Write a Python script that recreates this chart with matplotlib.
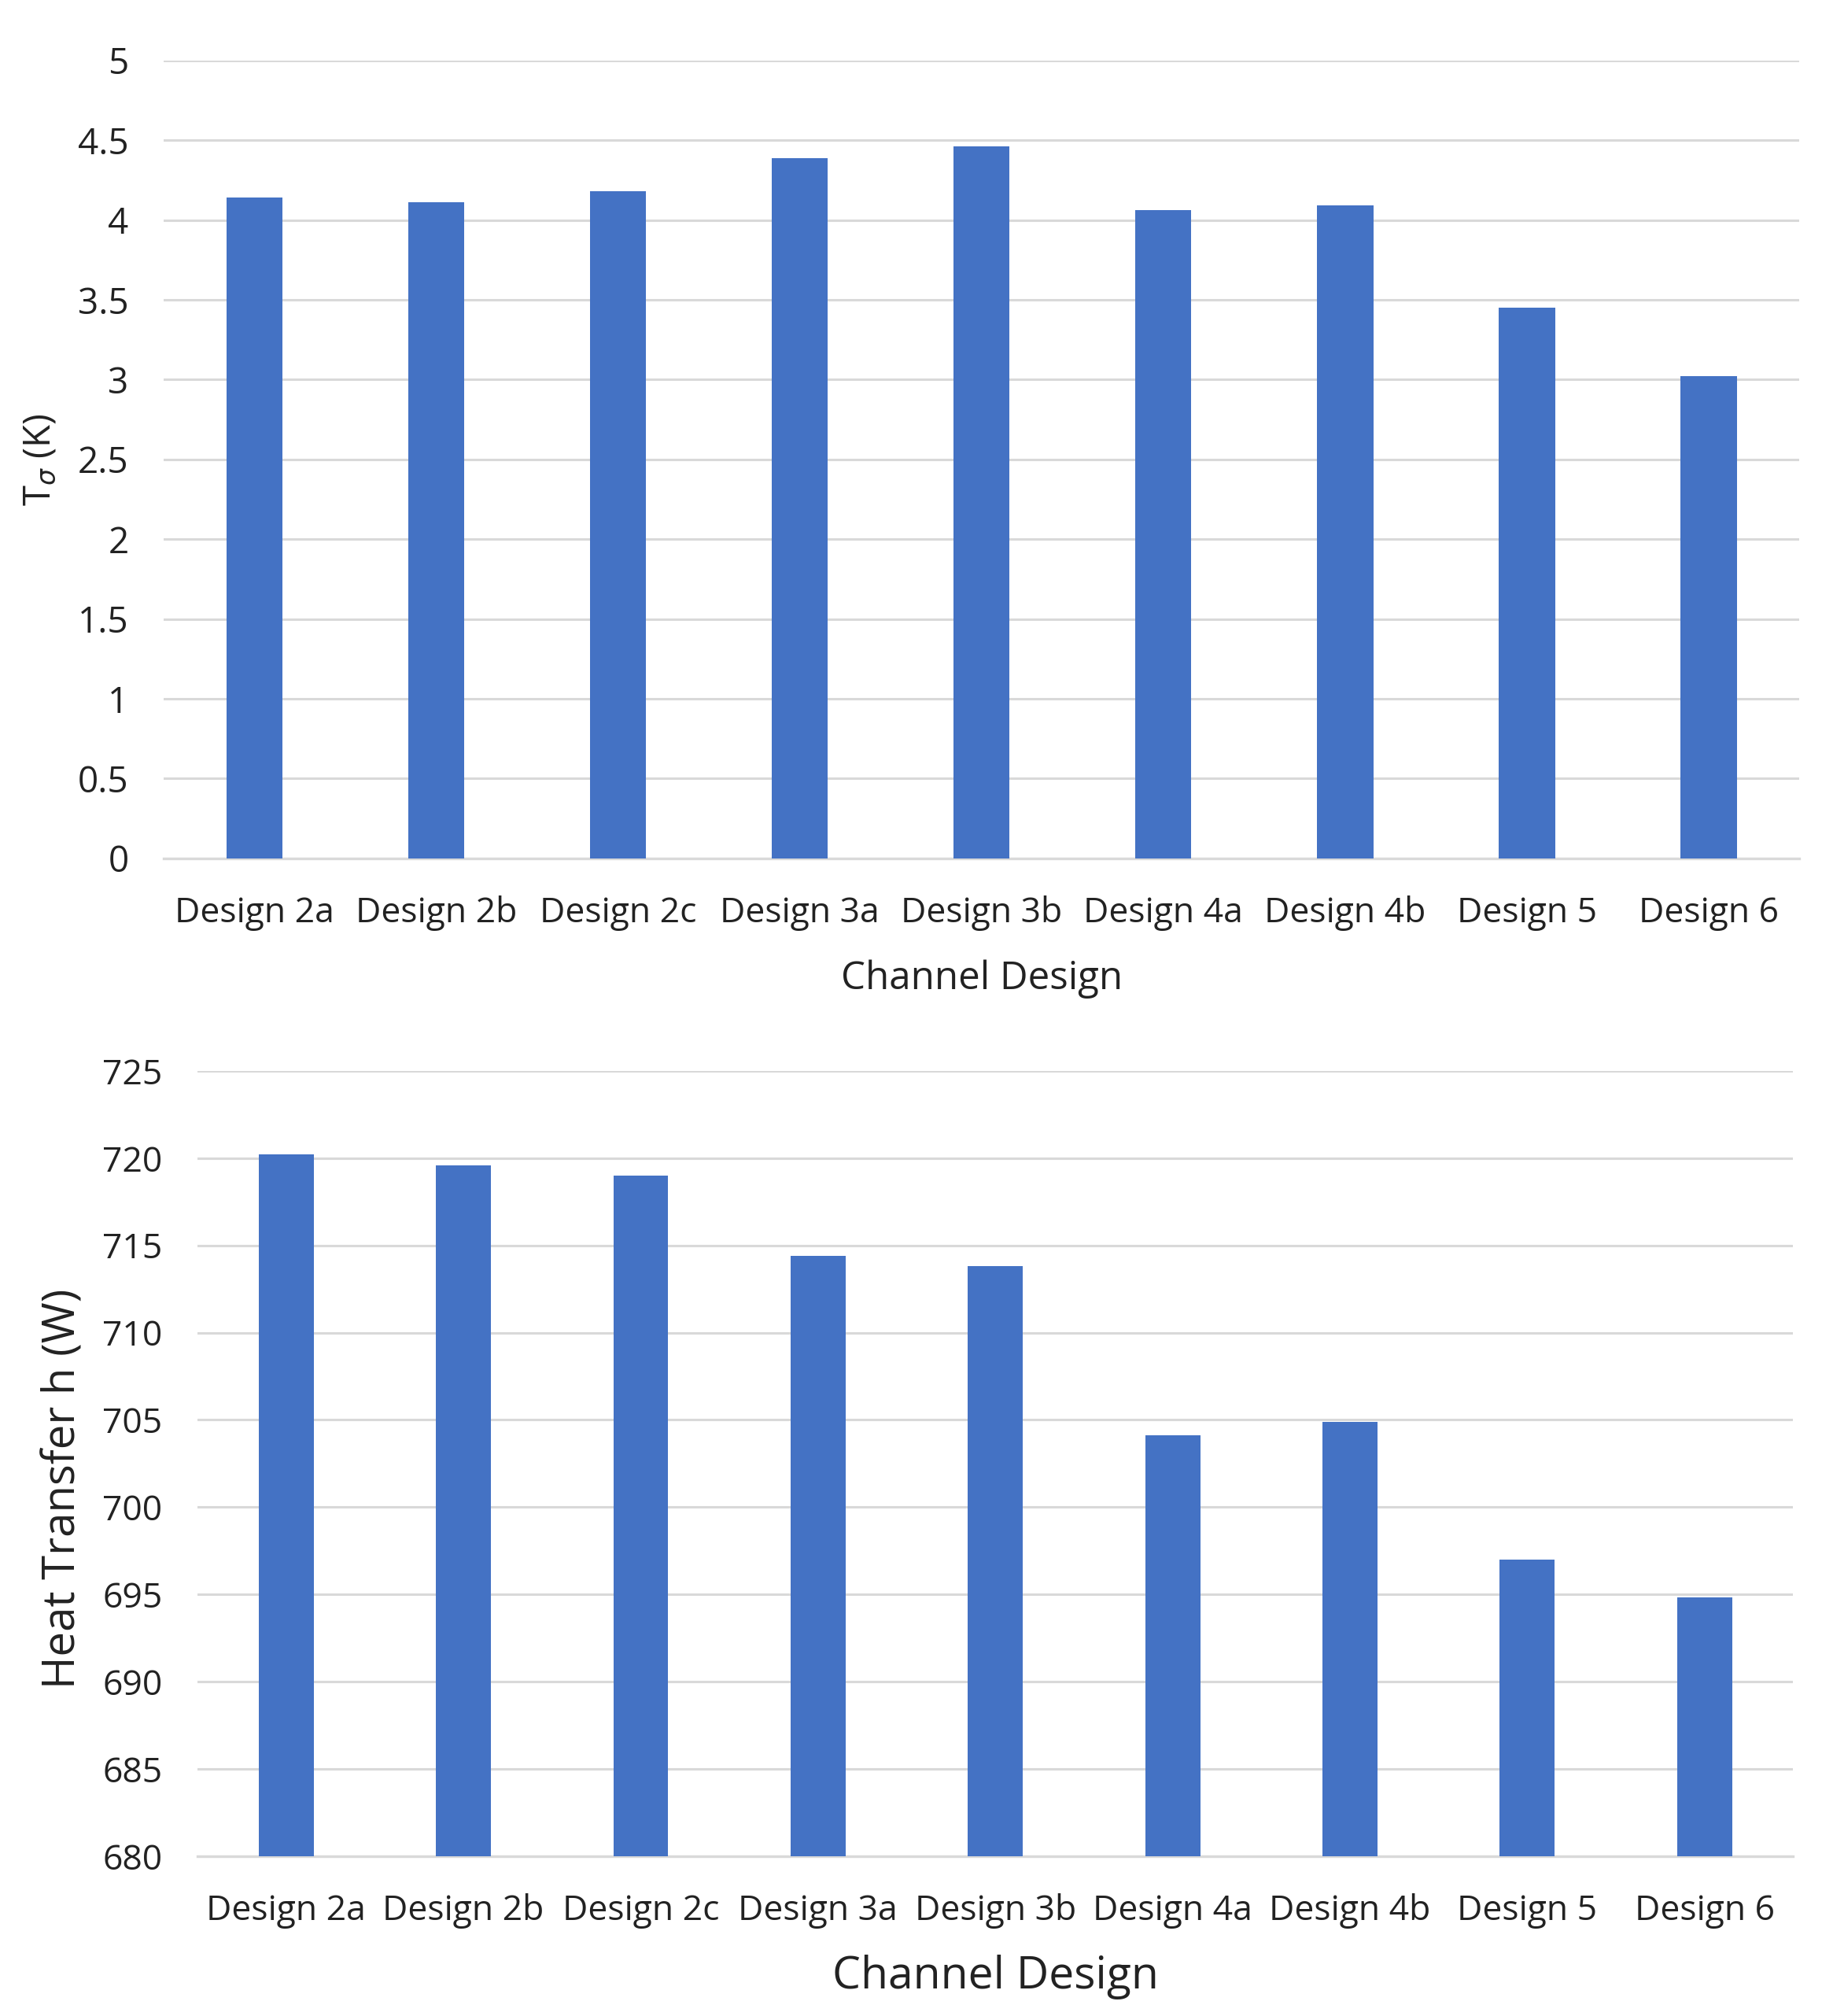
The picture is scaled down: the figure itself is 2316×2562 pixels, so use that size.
import matplotlib
matplotlib.use("Agg")
import matplotlib.pyplot as plt

plt.rcParams['font.family'] = ['Open Sans', 'DejaVu Sans']

designs = ["Design 2a", "Design 2b", "Design 2c", "Design 3a", "Design 3b",
           "Design 4a", "Design 4b", "Design 5", "Design 6"]
t_sigma = [4.14, 4.11, 4.18, 4.39, 4.46, 4.06, 4.09, 3.45, 3.02]
heat_transfer = [720.2, 719.6, 719.0, 714.4, 713.8, 704.1, 704.9, 697.0, 694.85]

top_ticks = [0, 0.5, 1, 1.5, 2, 2.5, 3, 3.5, 4, 4.5, 5]
top_ticklabels = ["0", "0.5", "1", "1.5", "2", "2.5", "3", "3.5", "4", "4.5", "5"]
bot_ticks = [680, 685, 690, 695, 700, 705, 710, 715, 720, 725]

bar_color = "#4472C4"
grid_color = "#d9d9d9"
text_color = "#222222"

fig = plt.figure(figsize=(23.16, 25.62), dpi=100)
ax1 = fig.add_axes([0.0898, 0.5742, 0.8978, 0.3958])
ax2 = fig.add_axes([0.1084, 0.0793, 0.8758, 0.3895])


def style(ax, ticks, ticklabels, lo, hi, ytick_fs, xtick_fs):
    x = range(len(designs))
    ax.set_xlim(-0.5, len(designs) - 0.5)
    ax.set_ylim(lo, hi)
    ax.set_yticks(ticks)
    ax.set_yticklabels(ticklabels, fontsize=ytick_fs)
    ax.set_xticks(list(x))
    ax.set_xticklabels(designs, fontsize=xtick_fs)
    for s in ["top", "right", "left"]:
        ax.spines[s].set_visible(False)
    ax.spines["bottom"].set_color(grid_color)
    ax.spines["bottom"].set_linewidth(2.4)
    ax.tick_params(axis="both", length=0, colors=text_color)
    ax.tick_params(axis="y", pad=32)
    ax.tick_params(axis="x", pad=34)
    ax.yaxis.grid(True, color=grid_color, linewidth=2.2)
    ax.set_axisbelow(True)


ax1.bar(range(len(designs)), t_sigma, width=0.31, color=bar_color, zorder=3)
style(ax1, top_ticks, top_ticklabels, 0, 5, 33, 32)
ax1.set_xlabel("Channel Design", fontsize=35.5, labelpad=26, color=text_color)
ax1.set_ylabel(r"T$_\sigma$ (K)", fontsize=34, color=text_color)
ax1.yaxis.set_label_coords(-0.064, 0.5)

ax2.bar(range(len(designs)), heat_transfer, width=0.31, color=bar_color, zorder=3)
style(ax2, bot_ticks, [str(t) for t in bot_ticks], 680, 725, 32, 32)
ax2.set_xlabel("Channel Design", fontsize=41, labelpad=24, color=text_color)
ax2.set_ylabel("Heat Transfer h (W)", fontsize=40.5, color=text_color)
ax2.yaxis.set_label_coords(-0.070, 0.468)

fig.savefig("out.png", dpi=100, facecolor="white")
